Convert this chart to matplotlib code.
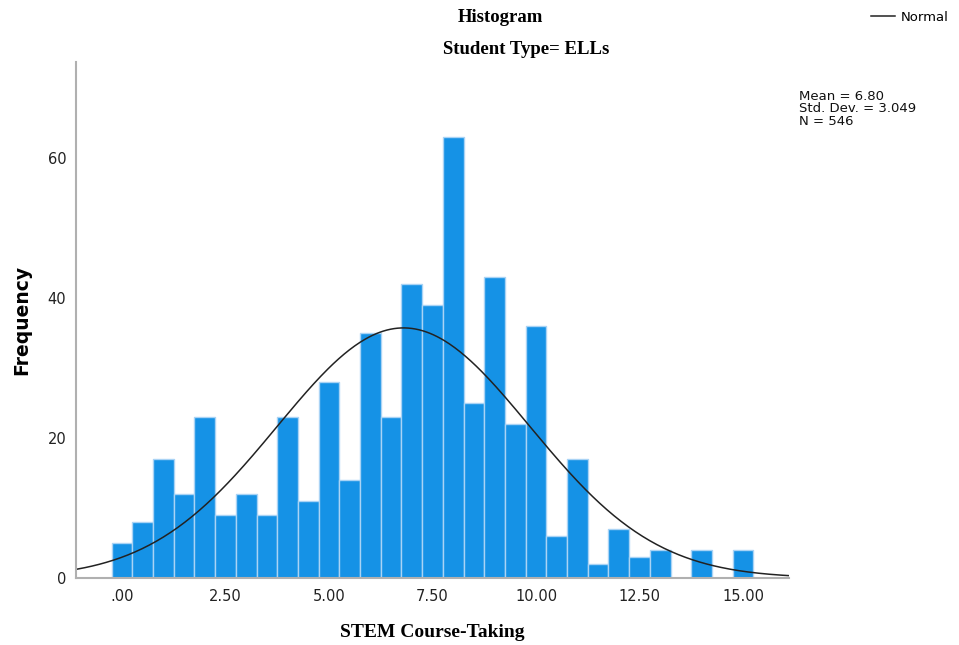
import numpy as np
import matplotlib
matplotlib.use("Agg")
import matplotlib.pyplot as plt

bin_centers = [0.0, 0.5, 1.0, 1.5, 2.0, 2.5, 3.0, 3.5, 4.0, 4.5, 5.0, 5.5, 6.0, 6.5, 7.0, 7.5,
               8.0, 8.5, 9.0, 9.5, 10.0, 10.5, 11.0, 11.5, 12.0, 12.5, 13.0, 13.5, 14.0, 14.5, 15.0]
counts = [5, 8, 17, 12, 23, 9, 12, 9, 23, 11, 28, 14, 35, 23, 42, 39,
          63, 25, 43, 22, 36, 6, 17, 2, 7, 3, 4, 0, 4, 0, 4]
bin_width = 0.5
mean, sd, n = 6.80, 3.049, 546
xticks = [0, 2.5, 5.0, 7.5, 10.0, 12.5, 15.0]
xticklabels = [".00", "2.50", "5.00", "7.50", "10.00", "12.50", "15.00"]
yticks = [0, 20, 40, 60]

W, H = 959, 645
fig = plt.figure(figsize=(W / 100, H / 100), dpi=100)
ax = fig.add_axes([76 / W, (H - 578) / H, (789 - 76) / W, (578 - 62) / H])

ax.bar(bin_centers, counts, width=bin_width, color="#1592e6", edgecolor="#a9d3f5", linewidth=1.0)

xs = np.linspace(-1.11, 16.11, 400)
ys = n * bin_width / (sd * np.sqrt(2 * np.pi)) * np.exp(-0.5 * ((xs - mean) / sd) ** 2)
line, = ax.plot(xs, ys, color="#222222", linewidth=1.1)

ax.set_xlim(-1.11, 16.11)
ax.set_ylim(0, 73.7)
ax.set_xticks(xticks)
ax.set_xticklabels(xticklabels)
ax.set_yticks(yticks)
ax.tick_params(length=0, labelsize=10.5, colors="#222222")
ax.tick_params(axis="x", pad=8)
ax.tick_params(axis="y", pad=7)
for s in ["top", "right"]:
    ax.spines[s].set_visible(False)
for s in ["left", "bottom"]:
    ax.spines[s].set_color("#b0b0b0")
    ax.spines[s].set_linewidth(1.5)

ax.set_xlabel("STEM Course-Taking", family="Liberation Serif", fontweight="bold", fontsize=14, labelpad=14)
ax.set_ylabel("Frequency", family="DejaVu Sans", fontweight="bold", fontsize=13.5, labelpad=12)

fig.text(500 / W, 1 - 17 / H, "Histogram", ha="center", va="center",
         family="Liberation Serif", fontweight="bold", fontsize=13.5)
fig.text(526 / W, 1 - 49 / H, "Student Type= ELLs", ha="center", va="center",
         family="Liberation Serif", fontweight="bold", fontsize=13.5)

fig.legend([line], ["Normal"], loc="upper right", bbox_to_anchor=(960 / W, 1 + 1 / H),
           frameon=False, fontsize=9.5, handlelength=1.8, handletextpad=0.4)

fig.text(799 / W, 1 - 90 / H, "Mean = 6.80\nStd. Dev. = 3.049\nN = 546", ha="left", va="top",
         fontsize=9.5, linespacing=0.95, color="#111111")

fig.savefig("out.png", dpi=100)
